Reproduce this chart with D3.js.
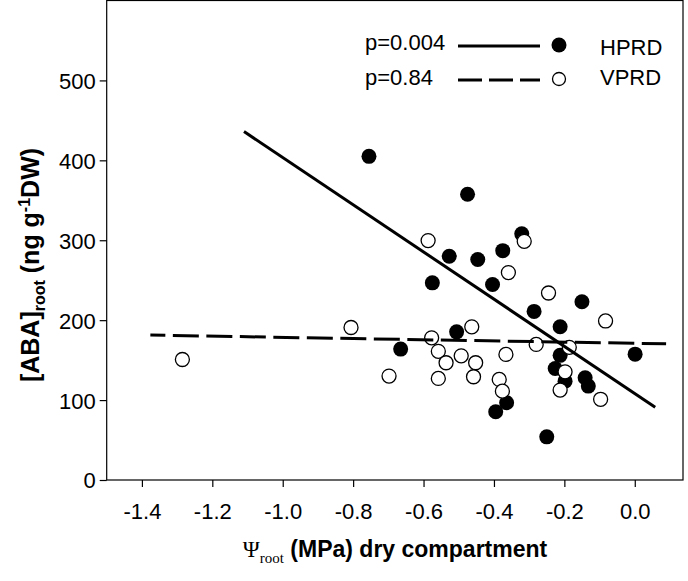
<!DOCTYPE html>
<html><head><meta charset="utf-8">
<script src="https://cdn.jsdelivr.net/npm/d3@7"></script>
<style>body{margin:0;background:#fff}svg{display:block}</style>
</head><body>
<svg id="c" width="688" height="581"></svg>
<script>
// HPRD (filled circles)
const hprdPsi = [-0.755,-0.475,-0.527,-0.446,-0.375,-0.575,-0.404,-0.321,-0.286,-0.150,-0.212,-0.212,0.001,-0.226,-0.198,-0.141,-0.132,-0.250,-0.506,-0.665,-0.364,-0.395];
const hprdABA = [405,357.5,280,276,287,246.7,244.6,308,211,223,191.7,156,157.5,139.6,123.7,128,117.5,54,185.4,163.8,96.7,85.4];
// VPRD (open circles)
const vprdPsi = [-0.587,-0.359,-0.314,-0.245,-0.083,-0.280,-0.186,-0.198,-0.212,-0.097,-0.463,-0.577,-0.558,-0.536,-0.493,-0.452,-0.366,-0.698,-0.558,-0.458,-0.385,-0.376,-0.806,-1.285];
const vprdABA = [299.6,259.6,298.7,234,199,169.6,166,135.4,112.5,101,191.7,177.9,161,146.7,155.4,146.7,157.1,130,127.1,129.2,125.8,111.2,190.8,150.8];
// regression lines (end points)
const hprdFitPsi = [-1.11, 0.058];
const hprdFitABA = [436, 91];
const vprdFitPsi = [-1.376, 0.089];
const vprdFitABA = [181.3, 170.4];
// ticks
const xTicks = [-1.4,-1.2,-1.0,-0.8,-0.6,-0.4,-0.2,0.0];
const yTicks = [0,100,200,300,400,500];
const legendP = ["p=0.004","p=0.84"];
const legendNames = ["HPRD","VPRD"];

const svg = d3.select("#c");
const FONT = "'Liberation Sans', Arial, sans-serif";
const SERIF = "'Liberation Serif', 'Times New Roman', serif";
const L = 106.7, R = 683, T = 0.5, B = 480;
const x = d3.scaleLinear().domain([-1.5, 0.137]).range([L, R]);
const y = d3.scaleLinear().domain([0, 600]).range([B, T]);

// frame
svg.append("rect").attr("x", L).attr("y", T).attr("width", R - L).attr("height", B - T)
  .attr("fill", "none").attr("stroke", "#000").attr("stroke-width", 1.2);

// axes
const xa = svg.append("g").attr("transform", `translate(0,${B})`)
  .call(d3.axisBottom(x).tickValues(xTicks).tickFormat(d => d.toFixed(1)).tickSize(7).tickSizeOuter(0).tickPadding(16));
const ya = svg.append("g").attr("transform", `translate(${L},0)`)
  .call(d3.axisLeft(y).tickValues(yTicks).tickFormat(d => String(d)).tickSize(7).tickSizeOuter(0).tickPadding(4));
[xa, ya].forEach(g => {
  g.select(".domain").remove();
  g.selectAll("line").attr("stroke", "#000").attr("stroke-width", 1.2);
  g.selectAll("text").attr("font-family", FONT).attr("font-size", 22).attr("fill", "#000");
});
ya.selectAll("text").attr("dy", "0.36em");

// points
svg.append("g").selectAll("circle").data(hprdPsi).join("circle")
  .attr("cx", d => x(d)).attr("cy", (d, i) => y(hprdABA[i])).attr("r", 7.5).attr("fill", "#000");
svg.append("g").selectAll("circle").data(vprdPsi).join("circle")
  .attr("cx", d => x(d)).attr("cy", (d, i) => y(vprdABA[i])).attr("r", 7).attr("fill", "#fff")
  .attr("stroke", "#000").attr("stroke-width", 1.3);

// regression lines
const line = d3.line();
svg.append("path").attr("d", line(hprdFitPsi.map((d, i) => [x(d), y(hprdFitABA[i])])))
  .attr("stroke", "#000").attr("stroke-width", 3).attr("fill", "none");
svg.append("path").attr("d", line(vprdFitPsi.map((d, i) => [x(d), y(vprdFitABA[i])])))
  .attr("stroke", "#000").attr("stroke-width", 3).attr("fill", "none")
  .attr("stroke-dasharray", "26,7.5").attr("stroke-dashoffset", 11);

// legend
const lg = svg.append("g");
const rows = [{yl: 46, yt: 50, yn: 55, dash: null, filled: true},
              {yl: 80, yt: 85, yn: 85, dash: "24,7", filled: false}];
rows.forEach((r, i) => {
  lg.append("text").attr("x", 365).attr("y", r.yt).text(legendP[i])
    .attr("font-family", FONT).attr("font-size", 22);
  const ln = lg.append("line").attr("x1", 458).attr("x2", 540).attr("y1", r.yl).attr("y2", r.yl)
    .attr("stroke", "#000").attr("stroke-width", 3);
  if (r.dash) ln.attr("stroke-dasharray", r.dash);
  lg.append("circle").attr("cx", 559).attr("cy", r.yl - 1).attr("r", r.filled ? 7.5 : 6.5)
    .attr("fill", r.filled ? "#000" : "#fff").attr("stroke", "#000").attr("stroke-width", r.filled ? 0 : 1.3);
  lg.append("text").attr("x", 600).attr("y", r.yn).text(legendNames[i])
    .attr("font-family", FONT).attr("font-size", 22);
});

// y axis title
const yt = svg.append("text").attr("transform", "translate(39,265) rotate(-90)")
  .attr("text-anchor", "middle").attr("font-family", FONT).attr("font-weight", "bold").attr("font-size", 25);
yt.append("tspan").text("[ABA]");
yt.append("tspan").text("root").attr("font-size", 16).attr("dy", 6);
yt.append("tspan").text(" (ng g").attr("dy", -6);
yt.append("tspan").text("-1").attr("font-size", 16).attr("dy", -9);
yt.append("tspan").text("DW)").attr("dy", 9);

// x axis title
const xt = svg.append("text").attr("x", 395).attr("y", 557).attr("text-anchor", "middle")
  .attr("font-family", FONT).attr("font-weight", "bold").attr("font-size", 23);
xt.append("tspan").text("Ψ").attr("font-family", SERIF).attr("font-weight", "normal");
xt.append("tspan").text("root").attr("font-family", SERIF).attr("font-weight", "normal").attr("font-size", 15).attr("dy", 6);
xt.append("tspan").text(" (MPa) dry compartment").attr("dy", -6);
</script>
</body></html>
